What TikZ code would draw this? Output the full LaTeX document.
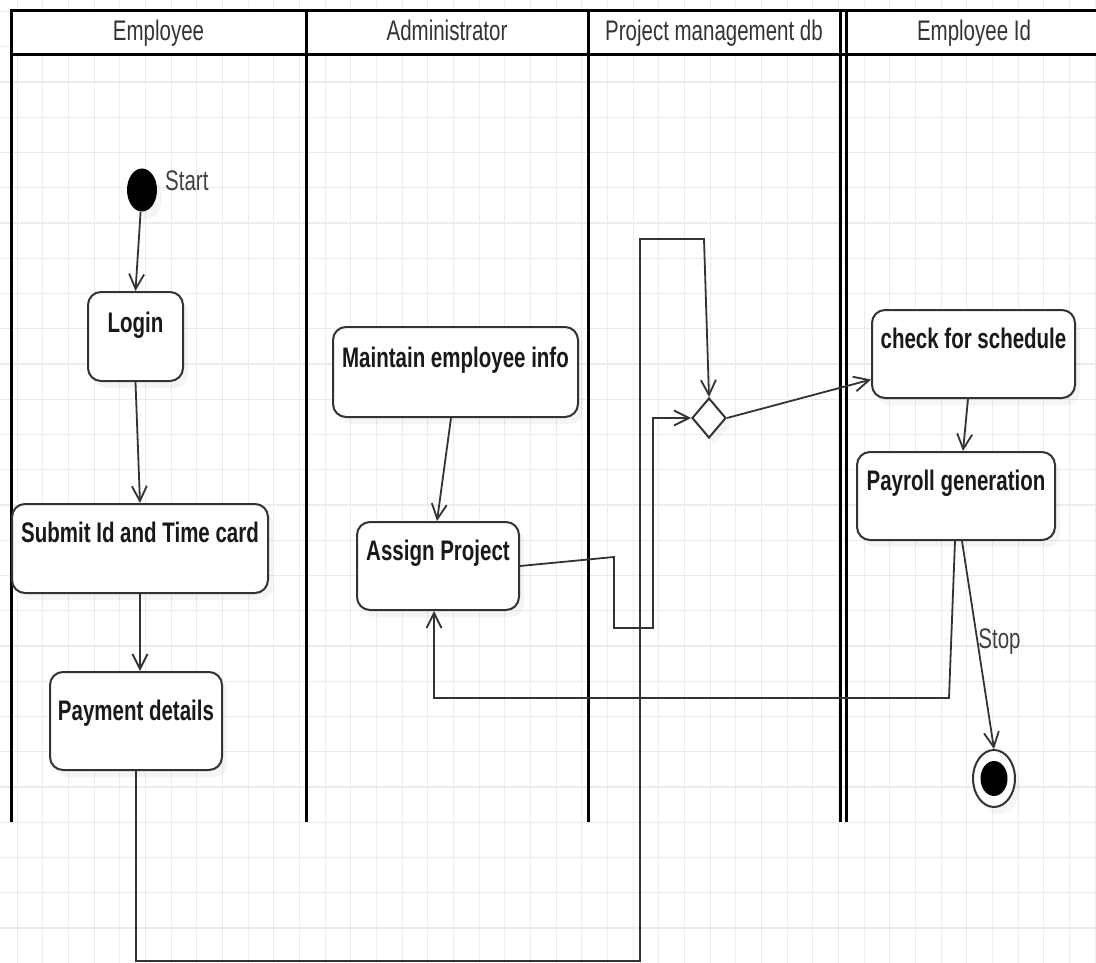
\documentclass[tikz,border=0pt]{standalone}
\usepackage{fontspec}
\setmainfont{Liberation Sans}
\usepackage{graphicx}
\usetikzlibrary{arrows.meta,shapes.geometric,shadows}

% text is drawn a little taller than wide
\newcommand{\tallText}[1]{\scalebox{1}[1.38]{#1}}

\definecolor{inkgray}{HTML}{333333}
\definecolor{gridgray}{HTML}{EBEBEB}

\tikzset{
  laneline/.style={line width=3pt, draw=black},
  lanetitle/.style={anchor=base, inner sep=0pt, text=inkgray,
    font=\fontsize{20.5pt}{24pt}\selectfont},
  activity/.style={draw=inkgray, line width=2pt, rounded corners=13pt,
    fill=white, inner xsep=4pt, inner ysep=0pt, text=black!90,
    font=\fontsize{20.5pt}{24pt}\selectfont\bfseries,
    drop shadow={opacity=0.08, shadow xshift=5pt, shadow yshift=-7pt}},
  flow/.style={draw=inkgray, line width=1.8pt,
    -{Straight Barb[length=15pt,width=15pt,line width=1.8pt]}},
  note/.style={inner sep=0pt, text=black!75,
    font=\fontsize{20.5pt}{24pt}\selectfont},
}

\begin{document}
\begin{tikzpicture}[x=1pt,y=-1pt]
\useasboundingbox (0,0) rectangle (1096,963);
\fill[white] (0,0) rectangle (1096,963);

% background grid
\foreach \k in {0,...,42} {
  \draw[gridgray, line width=1pt] ({17+25.67*\k},0) -- ({17+25.67*\k},963);
}
\foreach \k in {0,...,27} {
  \draw[gridgray, line width=1.4pt] (0,{11.5+35.25*\k}) -- (1096,{11.5+35.25*\k});
}

% swimlane header band and lane borders
\fill[white] (11,11) rectangle (1096,55);
\draw[laneline] (1096,11) -- (11,11) -- (11,822);
\draw[laneline] (11,55) -- (1096,55);
\foreach \x in {306,588,840,846} {
  \draw[laneline] (\x,11) -- (\x,822);
}

\node[lanetitle] (hEmp) at (158.5,40.5) {\tallText{Employee}};
\node[lanetitle] (hAdm) at (447,40.5) {\tallText{Administrator}};
\node[lanetitle] (hPmd) at (714,40.5) {\tallText{Project management db}};
\node[lanetitle] (hEid) at (974,40.5) {\tallText{Employee Id}};

% start and end states
\node[ellipse, fill=black, minimum width=30pt, minimum height=43pt, inner sep=0pt,
      drop shadow={opacity=0.08, shadow xshift=5pt, shadow yshift=-7pt}]
      (start) at (142,190) {};
\node[note, anchor=base west] (startLbl) at (165,191) {\tallText{Start}};

\node[ellipse, draw=inkgray, line width=2pt, fill=white, minimum width=42pt,
      minimum height=57pt, inner sep=0pt,
      drop shadow={opacity=0.08, shadow xshift=5pt, shadow yshift=-7pt}]
      (stop) at (994,778.5) {};
\node[ellipse, fill=black, minimum width=27pt, minimum height=35pt, inner sep=0pt]
      (stopDot) at (stop.center) {};

% activities
\node[activity, minimum width=95pt, text height=40pt, text depth=49pt]
  (login) at (135.5,336.5) {\tallText{Login}};
\node[activity, minimum width=256pt, text height=38pt, text depth=51pt]
  (submit) at (140,548.5) {\tallText{Submit Id and Time card}};
\node[activity, minimum width=172pt, text height=48pt, text depth=50pt]
  (payment) at (136,721) {\tallText{Payment details}};
\node[activity, minimum width=245pt, text height=40pt, text depth=50pt]
  (maintain) at (455.5,372) {\tallText{Maintain employee info}};
\node[activity, minimum width=162pt, text height=38pt, text depth=50pt]
  (assign) at (438,566) {\tallText{Assign Project}};
\node[activity, minimum width=203pt, text height=38pt, text depth=50pt]
  (check) at (973.5,354) {\tallText{check for schedule}};
\node[activity, minimum width=198pt, text height=38pt, text depth=50pt]
  (payroll) at (956,496) {\tallText{Payroll generation}};

% decision
\node[diamond, draw=inkgray, line width=2pt, fill=white, minimum width=34pt,
      minimum height=40pt, inner sep=0pt,
      drop shadow={opacity=0.08, shadow xshift=5pt, shadow yshift=-7pt}]
      (dec) at (709,418) {};

% bend points of the routed connectors
\coordinate (b1) at (136,961);
\coordinate (b2) at (640,961);
\coordinate (b3) at (640,239);
\coordinate (b4) at (704,239);
\coordinate (a1) at (614,557);
\coordinate (a2) at (614,628);
\coordinate (a3) at (653,628);
\coordinate (a4) at (653,418);
\coordinate (p1) at (949,698);
\coordinate (p2) at (434,698);

% control flow
\draw[flow] (start) -- (login.north);
\draw[flow] (login.south) -- (submit.north);
\draw[flow] (submit.south) -- (submit.south |- payment.north);
\draw[flow] (payment.south) -- (b1) -- (b2) -- (b3) -- (b4) -- (dec.north);
\draw[flow] (maintain.south -| 451,0) -- (assign.north -| 437,0);
\draw[flow] (assign.east) -- (a1) -- (a2) -- (a3) -- (a4) -- (dec.west);
\draw[flow] (dec.east) -- (check.194);
\draw[flow] (check.south -| 968,0) -- (payroll.north -| 963,0);
\draw[flow] (payroll.south -| 955,0) -- (p1) -- (p2) -- (assign.south -| p2);
\draw[flow] (payroll.south -| 962,0) -- (stop.north)
  node[note, pos=0.515, anchor=base west, xshift=-1pt] (stopLbl) {\tallText{Stop}};
\end{tikzpicture}
\end{document}
